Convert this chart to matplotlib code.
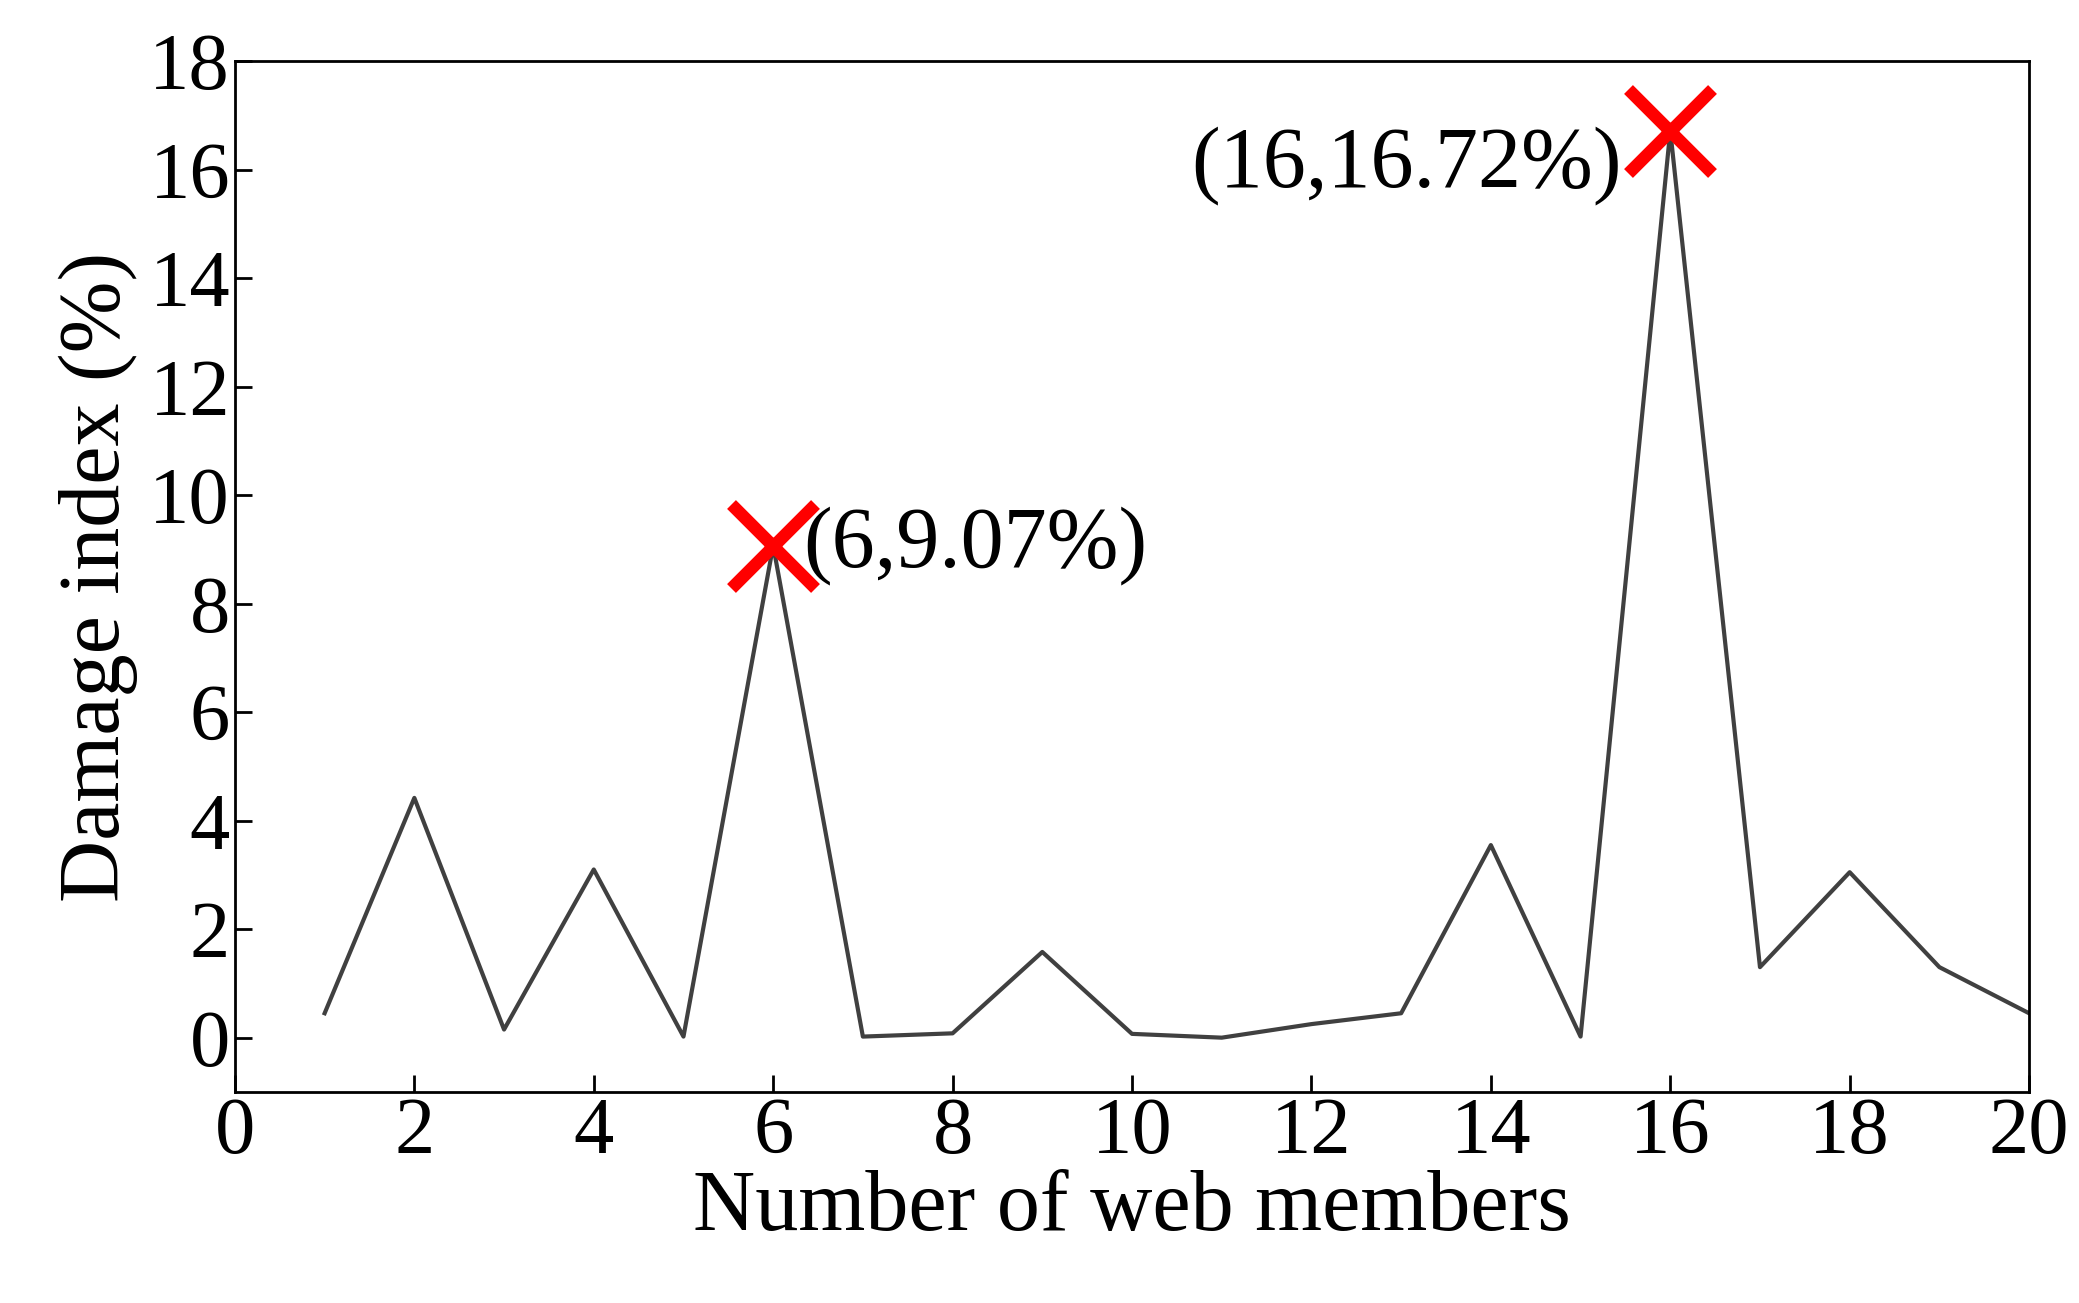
import matplotlib.pyplot as plt

members = list(range(1, 21))
damage = [0.45, 4.42, 0.15, 3.1, 0.02, 9.07, 0.02, 0.08, 1.58, 0.07,
          0.0, 0.25, 0.45, 3.55, 0.02, 16.72, 1.3, 3.05, 1.3, 0.45]
peaks_x = [6, 16]
peaks_y = [9.07, 16.72]
peak_labels = ['(6,9.07%)', '(16,16.72%)']

plt.rcParams['font.family'] = ['Liberation Serif', 'DejaVu Serif']

fig = plt.figure(figsize=(20.79, 13.03), dpi=100)
ax = fig.add_axes([0.113, 0.162, 0.863, 0.791])
ax.plot(members, damage, color='#404040', linewidth=3)
ax.plot(peaks_x, peaks_y, linestyle='none', marker='x', color='#ff0000',
        markersize=60, markeredgewidth=9)
ax.annotate(peak_labels[0], (peaks_x[0], peaks_y[0]), xytext=(22, 0),
            textcoords='offset points', fontsize=62, ha='left', va='center')
ax.annotate(peak_labels[1], (peaks_x[1], peaks_y[1]), xytext=(-35, -25),
            textcoords='offset points', fontsize=62, ha='right', va='center')

ax.set_xlim(0, 20)
ax.set_ylim(-1, 18)
ax.set_xticks(range(0, 21, 2))
ax.set_yticks(range(0, 19, 2))
ax.tick_params(direction='in', labelsize=58, length=12, width=2)
for s in ax.spines.values():
    s.set_linewidth(2)
ax.set_xlabel('Number of web members', fontsize=62, labelpad=0)
ax.set_ylabel('Damage index (%)', fontsize=62, labelpad=8)

fig.savefig('out.png', dpi=100)
